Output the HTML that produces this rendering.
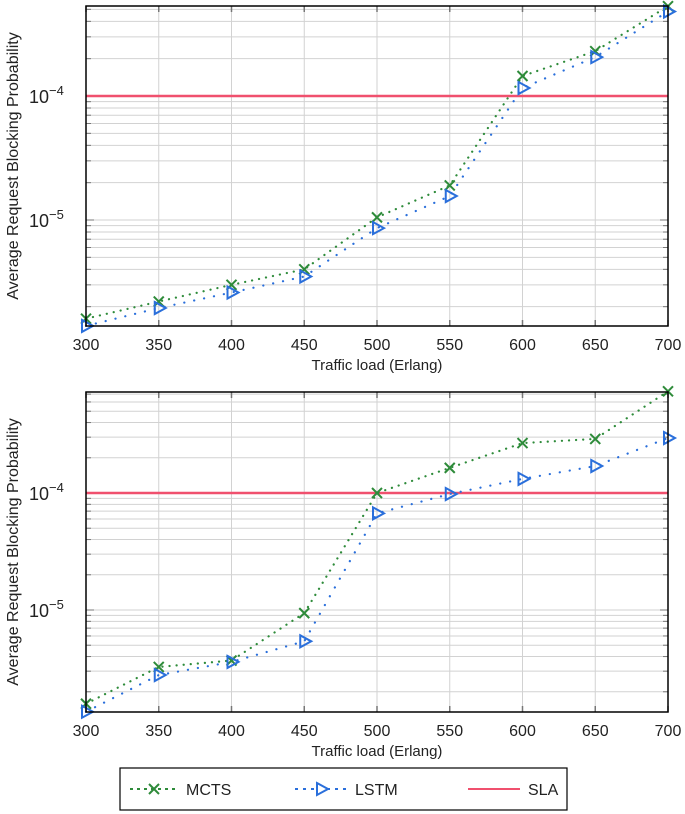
<!DOCTYPE html>
<html><head><meta charset="utf-8"><style>
body{margin:0;background:#fff}
svg{display:block;font-family:"Liberation Sans",sans-serif}
</style></head><body>
<svg id="s" width="685" height="814"></svg>
<script>
const xCats=[300,350,400,450,500,550,600,650,700];
const topMcts=[1.6e-6,2.2e-6,3.0e-6,4.0e-6,1.05e-5,1.9e-5,1.45e-4,2.3e-4,5.3e-4];
const topLstm=[1.4e-6,1.95e-6,2.6e-6,3.5e-6,8.6e-6,1.56e-5,1.16e-4,2.06e-4,4.8e-4];
const botMcts=[1.58e-6,3.26e-6,3.7e-6,9.4e-6,1.0e-4,1.64e-4,2.67e-4,2.9e-4,7.4e-4];
const botLstm=[1.35e-6,2.78e-6,3.6e-6,5.4e-6,6.7e-5,9.8e-5,1.32e-4,1.7e-4,2.95e-4];
const slaValue=[1e-4];
const yTickExps=[-5,-4];

const NS="http://www.w3.org/2000/svg";
const svg=document.getElementById('s');
function mk(t,a,p){const e=document.createElementNS(NS,t);for(const k in a)e.setAttribute(k,a[k]);(p||svg).appendChild(e);return e;}

function panel(name,top,bottom,y4,y5,mcts,lstm){
  const g=mk('g',{});
  
  
  const L=86,R=668,dec=y5-y4;
  const xs=v=>L+(v-300)/400*(R-L);
  const ys=v=>y4-(Math.log10(v)+4)*dec;
  const gg=mk('g',{stroke:'#d2d2d2','stroke-width':1},g);
  
  
  xCats.forEach(v=>mk('line',{x1:xs(v),x2:xs(v),y1:top,y2:bottom},gg));
  for(let e=-7;e<=-2;e++)for(let m=1;m<10;m++){const y=ys(m*Math.pow(10,e));if(y>top&&y<bottom){mk('line',{x1:L,x2:R,y1:y,y2:y},gg);
    const tl=m==1?8:5;mk('line',{x1:L,x2:L+tl,y1:y,y2:y,stroke:'#777'},g);mk('line',{x1:R-tl,x2:R,y1:y,y2:y,stroke:'#777'},g);}}
  xCats.forEach(v=>{mk('line',{x1:xs(v),x2:xs(v),y1:top,y2:top+6,stroke:'#777','stroke-width':1.5},g);mk('line',{x1:xs(v),x2:xs(v),y1:bottom-6,y2:bottom,stroke:'#777','stroke-width':1.5},g);});
  const sla=mk('line',{x1:L,x2:R,y1:ys(slaValue[0]),y2:ys(slaValue[0]),stroke:'#f0506e','stroke-width':2.5},g);
  
  
  const pm=mk('polyline',{points:xCats.map((v,i)=>xs(v)+','+ys(mcts[i])).join(' '),fill:'none',stroke:'#2e8b3a','stroke-width':2.2,'stroke-dasharray':'0.1 7','stroke-linecap':'round'},g);
  
  
  const pl=mk('polyline',{points:xCats.map((v,i)=>xs(v)+','+ys(lstm[i])).join(' '),fill:'none',stroke:'#2a6fdb','stroke-width':2.2,'stroke-dasharray':'0.1 10','stroke-linecap':'round'},g);
  
  
  xCats.forEach((v,i)=>{
    const x=xs(v),y=ys(mcts[i]);
    const m=mk('path',{d:`M${x-5},${y-5}L${x+5},${y+5}M${x-5},${y+5}L${x+5},${y-5}`,stroke:'#2e8b3a','stroke-width':2},g);
    
    
    const x2=xs(v),y2=ys(lstm[i]);
    const t=mk('path',{d:`M${x2-4},${y2-6}L${x2+7},${y2}L${x2-4},${y2+6}Z`,stroke:'#2a6fdb','stroke-width':2,fill:'none'},g);
    
    
  });
  mk('rect',{x:L,y:top,width:R-L,height:bottom-top,fill:'none',stroke:'#000','stroke-width':1.5},g);
  xCats.forEach(v=>{const t=mk('text',{x:xs(v),y:bottom+24,'text-anchor':'middle','font-size':16,fill:'#222'},g);t.textContent=v;
    
    });
  yTickExps.forEach(e=>{const t=mk('text',{x:29,y:ys(Math.pow(10,e))+7,'font-size':18,fill:'#222'},g);
    
    
    t.textContent='10';const s=mk('tspan',{dy:-8,'font-size':13},t);s.textContent='−'+(-e);});
  const xt=mk('text',{x:377,y:bottom+44,'text-anchor':'middle','font-size':15,fill:'#222'},g);xt.textContent='Traffic load (Erlang)';
  
  
  const yt=mk('text',{x:0,y:0,'text-anchor':'middle','font-size':16,fill:'#222',transform:`translate(18,${(top+bottom)/2}) rotate(-90)`},g);yt.textContent='Average Request Blocking Probability';
  
  
}
panel('top-chart',6,326,96,220,topMcts,topLstm);
panel('bottom-chart',392,712,493,610,botMcts,botLstm);

const lg=mk('g',{});


mk('rect',{x:120,y:768,width:447,height:42,fill:'#fff',stroke:'#000','stroke-width':1.2},lg);
const e1=mk('g',{},lg);


mk('line',{x1:130,x2:178,y1:789,y2:789,stroke:'#2e8b3a','stroke-width':2,'stroke-dasharray':'3 4'},e1);
mk('path',{d:'M149,784L159,794M149,794L159,784',stroke:'#2e8b3a','stroke-width':2},e1);
let t=mk('text',{x:186,y:795,'font-size':16,fill:'#222'},e1);t.textContent='MCTS';
const e2=mk('g',{},lg);


mk('line',{x1:295,x2:348,y1:789,y2:789,stroke:'#2a6fdb','stroke-width':2,'stroke-dasharray':'3 5'},e2);
mk('path',{d:'M317,783L328,789L317,795Z',stroke:'#2a6fdb','stroke-width':2,fill:'#fff'},e2);
t=mk('text',{x:355,y:795,'font-size':16,fill:'#222'},e2);t.textContent='LSTM';
const e3=mk('g',{},lg);


mk('line',{x1:468,x2:520,y1:789,y2:789,stroke:'#f0506e','stroke-width':2},e3);
t=mk('text',{x:528,y:795,'font-size':16,fill:'#222'},e3);t.textContent='SLA';
</script>
</body></html>
